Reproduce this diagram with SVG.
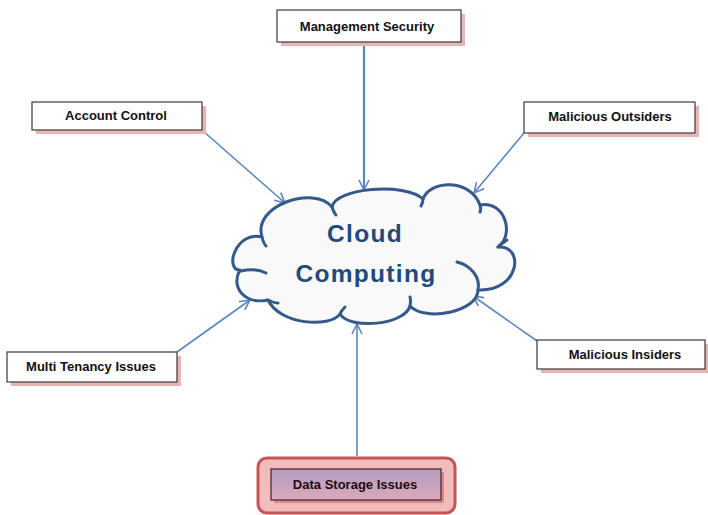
<svg xmlns="http://www.w3.org/2000/svg" width="708" height="515" viewBox="0 0 708 515">
  <defs>
    <style>
      .box { fill: #ffffff; stroke: #3a3a3a; stroke-width: 1.2; }
      .shadow { fill: #e8b4b4; }
      .label { font-family: "Liberation Sans", Arial, sans-serif; font-weight: bold; font-size: 13px; fill: #111111; text-anchor: middle; }
      .conn { stroke: #5b87c0; stroke-width: 1.6; fill: none; marker-end: url(#arrow); }
      .cloud { fill: #f9f9f9; stroke: #34598a; stroke-width: 3; stroke-linejoin: round; stroke-linecap: round; }
      .cloud-inner { fill: none; stroke: #34598a; stroke-width: 3; stroke-linecap: round; }
      .title { font-family: "Liberation Sans", Arial, sans-serif; font-weight: bold; font-size: 24.5px; fill: #1f4a7c; text-anchor: middle; letter-spacing: 1.3px; }
    </style>
    <marker id="arrow" viewBox="0 0 12 12" refX="11" refY="6" markerWidth="12" markerHeight="12" markerUnits="userSpaceOnUse" orient="auto">
      <path d="M1,1 L11,6 L1,11" fill="none" stroke="#5b87c0" stroke-width="1.6"/>
    </marker>
    <linearGradient id="storageFill" x1="0" y1="0" x2="0" y2="1">
      <stop offset="0" stop-color="#b39cc2"/>
      <stop offset="1" stop-color="#dbaab8"/>
    </linearGradient>
  </defs>

  <!-- connectors -->
  <g id="connectors">
    <line class="conn" x1="364" y1="45" x2="364" y2="190" style="stroke-width:2.2"/>
    <line class="conn" x1="203" y1="131" x2="285" y2="203"/>
    <line class="conn" x1="524" y1="133" x2="474" y2="193"/>
    <line class="conn" x1="177" y1="352" x2="250" y2="300"/>
    <line class="conn" x1="537" y1="341" x2="473" y2="296"/>
    <line class="conn" x1="357" y1="456" x2="357" y2="324"/>
  </g>

  <!-- central cloud -->
  <g id="cloud">
    <path class="cloud" d="M 240 270
      C 224 270, 236 230, 262 237
      C 252 205, 315 185, 332 207
      C 335 188, 405 182, 423 199
      C 430 180, 470 178, 480 205
      C 505 200, 515 235, 498 247
      C 525 245, 520 292, 478 290
      C 478 312, 425 322, 410 306
      C 405 325, 350 330, 340 314
      C 330 328, 280 325, 268 300
      C 245 305, 230 287, 240 270 Z"/>
    <path class="cloud-inner" d="M 241 271 C 250 269, 260 270, 266 273"/>
    <path class="cloud-inner" d="M 262 237 C 263 241, 264 244, 266 246"/>
    <path class="cloud-inner" d="M 332 207 C 333 210, 334 213, 336 215"/>
    <path class="cloud-inner" d="M 423 199 C 423 202, 422 204, 421 206"/>
    <path class="cloud-inner" d="M 480 205 C 481 208, 481 210, 480 212"/>
    <path class="cloud-inner" d="M 498 247 C 501 244, 504 242, 507 240"/>
    <path class="cloud-inner" d="M 478 290 C 481 277, 470 265, 457 262"/>
    <path class="cloud-inner" d="M 410 306 C 411 302, 411 300, 410 297"/>
    <path class="cloud-inner" d="M 340 314 C 341 311, 343 309, 345 307"/>
    <path class="cloud-inner" d="M 268 300 C 272 302, 275 303, 278 303"/>
    <text class="title" x="365" y="242">Cloud</text>
    <text class="title" x="366" y="282">Computing</text>
  </g>

  <!-- threat boxes -->
  <g id="management-security">
    <rect class="shadow" x="281" y="14" width="184" height="32"/>
    <rect class="box" x="277" y="10" width="184" height="32"/>
    <text class="label" x="367" y="31">Management Security</text>
  </g>

  <g id="account-control">
    <rect class="shadow" x="36" y="106" width="170" height="28"/>
    <rect class="box" x="32" y="102" width="170" height="28"/>
    <text class="label" x="116" y="120">Account Control</text>
  </g>

  <g id="malicious-outsiders">
    <rect class="shadow" x="528" y="106" width="171" height="31"/>
    <rect class="box" x="524" y="102" width="171" height="31"/>
    <text class="label" x="610" y="121">Malicious Outsiders</text>
  </g>

  <g id="multi-tenancy-issues">
    <rect class="shadow" x="11" y="356" width="170" height="30"/>
    <rect class="box" x="7" y="352" width="170" height="30"/>
    <text class="label" x="91" y="371">Multi Tenancy Issues</text>
  </g>

  <g id="malicious-insiders">
    <rect class="shadow" x="541" y="344" width="168" height="29"/>
    <rect class="box" x="537" y="340" width="168" height="29"/>
    <text class="label" x="625" y="359">Malicious Insiders</text>
  </g>

  <g id="data-storage-issues">
    <rect x="258" y="458" width="197" height="55" rx="9" ry="9" fill="#f2bcbc" stroke="#c65454" stroke-width="3"/>
    <rect x="274" y="472" width="170" height="31" fill="#d98a8e"/>
    <rect x="271" y="469" width="170" height="31" fill="url(#storageFill)" stroke="#4a1e2c" stroke-width="1.2"/>
    <text class="label" x="355" y="489" style="fill:#1e0c10">Data Storage Issues</text>
  </g>
</svg>
